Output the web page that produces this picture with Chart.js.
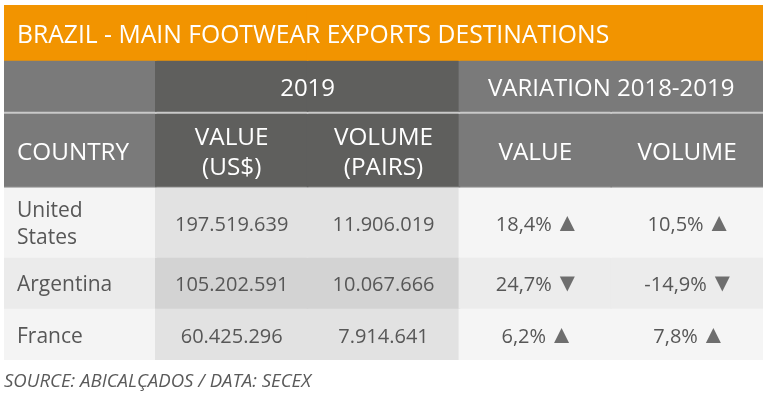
<!DOCTYPE html>
<html>
<head>
<meta charset="utf-8">
<script src="https://cdn.jsdelivr.net/npm/chart.js@4"></script>
<style>
  body { margin: 0; background: #fff; }
  #wrap { width: 770px; height: 407px; position: relative; }
</style>
</head>
<body>
<div id="wrap"><canvas id="table"></canvas></div>
<script>
// table data
const title = 'BRAZIL - MAIN FOOTWEAR EXPORTS DESTINATIONS';
const source = 'SOURCE: ABICALÇADOS / DATA: SECEX';
const columns = ['COUNTRY', 'VALUE (US$)', 'VOLUME (PAIRS)', 'VALUE', 'VOLUME'];
const headerLines = [['COUNTRY'], ['VALUE', '(US$)'], ['VOLUME', '(PAIRS)'], ['VALUE'], ['VOLUME']];
const groupLabels = ['2019', 'VARIATION 2018-2019'];
const countries = ['United States', 'Argentina', 'France'];
const value2019 = [197519639, 105202591, 60425296];
const volume2019 = [11906019, 10067666, 7914641];
const valueChange = [18.4, 24.7, 6.2];
const valueTrend = ['up', 'down', 'up'];
const volumeChange = [10.5, -14.9, 7.8];
const volumeTrend = ['up', 'down', 'up'];

// layout rows: title, group header, divider, column header, divider, data rows
const ORANGE = '#f29400';
const HEAD = '#7a7a7a';
const HEAD_DARK = '#5f5f5d';
const rows = [
  { h: 55, colors: [ORANGE, ORANGE, ORANGE, ORANGE, ORANGE] },
  { h: 51, colors: [HEAD, HEAD_DARK, HEAD_DARK, HEAD, HEAD] },
  { h: 2, colors: Array(5).fill('#c9c9c9') },
  { h: 73, colors: [HEAD, HEAD_DARK, HEAD_DARK, HEAD, HEAD] },
  { h: 1, colors: Array(5).fill('#a8a8a8') },
  { h: 70, colors: ['#f4f4f4', '#e2e2e2', '#e2e2e2', '#f5f5f5', '#f5f5f5'] },
  { h: 51, colors: ['#ebebeb', '#d3d3d3', '#d3d3d3', '#ececec', '#ececec'] },
  { h: 52, colors: ['#f4f4f4', '#e2e2e2', '#e2e2e2', '#f5f5f5', '#f5f5f5'] },
];
const TITLE_ROW = 0, GROUP_ROW = 1, HEADER_ROW = 3, FIRST_DATA_ROW = 5;
const rowEdges = rows.reduce((acc, r) => { acc.push(acc[acc.length - 1] + r.h); return acc; }, [0]);

const FONT = '"Open Sans", "Noto Sans", sans-serif';
const TEXT = '#575757';
const ARROW = '#6e6e6e';

const fmtInt = n => String(n).replace(/\B(?=(\d{3})+(?!\d))/g, '.');
const fmtPct = v => v.toFixed(1).replace('.', ',') + '%';

// one floating-bar dataset per table row, one bar per column
const datasets = rows.map((row, r) => ({
  label: 'row' + r,
  data: columns.map(() => [rowEdges[r], rowEdges[r + 1]]),
  backgroundColor: row.colors,
  borderWidth: 0,
  inflateAmount: 0.8, // hide seams between neighbouring cells
  grouped: false,
  categoryPercentage: 1,
  barPercentage: 1,
}));

function capText(ctx, str, x, mid, size, align) {
  ctx.textAlign = align;
  ctx.textBaseline = 'alphabetic';
  ctx.fillText(str, x, mid + size * 0.357 + 1.5);
}

function triangle(ctx, x, mid, size, dir) {
  const base = mid + size / 2 + 1.5;
  const top = base - size;
  ctx.beginPath();
  if (dir === 'up') {
    ctx.moveTo(x, base); ctx.lineTo(x + size, base); ctx.lineTo(x + size / 2, top);
  } else {
    ctx.moveTo(x, top); ctx.lineTo(x + size, top); ctx.lineTo(x + size / 2, base);
  }
  ctx.closePath();
  ctx.fill();
}

const tableText = {
  id: 'tableText',
  afterDatasetsDraw(chart) {
    const { ctx, scales: { x, y } } = chart;
    const colW = x.getPixelForValue(1) - x.getPixelForValue(0);
    const cx = i => x.getPixelForValue(i);
    const left = i => cx(i) - colW / 2;
    const mid = r => (y.getPixelForValue(rowEdges[r]) + y.getPixelForValue(rowEdges[r + 1])) / 2;
    const pad = 13;
    ctx.save();

    // title
    ctx.fillStyle = '#fff';
    ctx.font = '24.7px ' + FONT;
    capText(ctx, title, left(0) + pad, mid(TITLE_ROW), 24.7, 'left');

    // group headers
    ctx.font = '24px ' + FONT;
    capText(ctx, groupLabels[0], (cx(1) + cx(2)) / 2, mid(GROUP_ROW), 24, 'center');
    capText(ctx, groupLabels[1], (cx(3) + cx(4)) / 2, mid(GROUP_ROW), 24, 'center');

    // column headers
    ctx.font = '24.3px ' + FONT;
    headerLines.forEach((lines, i) => {
      const xpos = i === 0 ? left(0) + pad : cx(i);
      const align = i === 0 ? 'left' : 'center';
      lines.forEach((line, k) => {
        const off = (k - (lines.length - 1) / 2) * 30;
        capText(ctx, line, xpos, mid(HEADER_ROW) + off, 24.3, align);
      });
    });

    // data rows
    countries.forEach((name, d) => {
      const m = mid(FIRST_DATA_ROW + d);
      ctx.fillStyle = TEXT;
      ctx.font = '21px ' + FONT;
      let lines = [name];
      if (ctx.measureText(name).width > colW - 2 * pad) lines = name.split(' ');
      lines.forEach((line, k) => {
        const off = (k - (lines.length - 1) / 2) * 27;
        capText(ctx, line, left(0) + pad, m + off, 21, 'left');
      });

      ctx.font = '20px ' + FONT;
      capText(ctx, fmtInt(value2019[d]), cx(1), m, 20, 'center');
      capText(ctx, fmtInt(volume2019[d]), cx(2), m, 20, 'center');

      [[valueChange, valueTrend, 3], [volumeChange, volumeTrend, 4]].forEach(([vals, trend, c]) => {
        const str = fmtPct(vals[d]);
        const tw = ctx.measureText(str).width;
        const tri = 15, gap = 8;
        const start = cx(c) - (tw + gap + tri) / 2;
        ctx.fillStyle = TEXT;
        capText(ctx, str, start, m, 20, 'left');
        ctx.fillStyle = ARROW;
        triangle(ctx, start + tw + gap, m, tri, trend[d]);
      });
    });

    // source note
    ctx.fillStyle = '#5a5a5a';
    ctx.font = 'italic 18.6px ' + FONT;
    ctx.textAlign = 'left';
    ctx.textBaseline = 'alphabetic';
    ctx.fillText(source, left(0), y.getPixelForValue(rowEdges[rowEdges.length - 1]) + 27);
    ctx.restore();
  }
};

new Chart(document.getElementById('table'), {
  type: 'bar',
  data: { labels: columns, datasets },
  options: {
    responsive: true,
    maintainAspectRatio: false,
    animation: false,
    events: [],
    layout: { padding: { left: 4, right: 7, top: 5, bottom: 47 } },
    plugins: { legend: { display: false }, tooltip: { enabled: false } },
    scales: {
      x: { type: 'category', display: false },
      y: { type: 'linear', min: 0, max: rowEdges[rowEdges.length - 1], reverse: true, display: false },
    },
  },
  plugins: [tableText],
});
</script>
</body>
</html>
